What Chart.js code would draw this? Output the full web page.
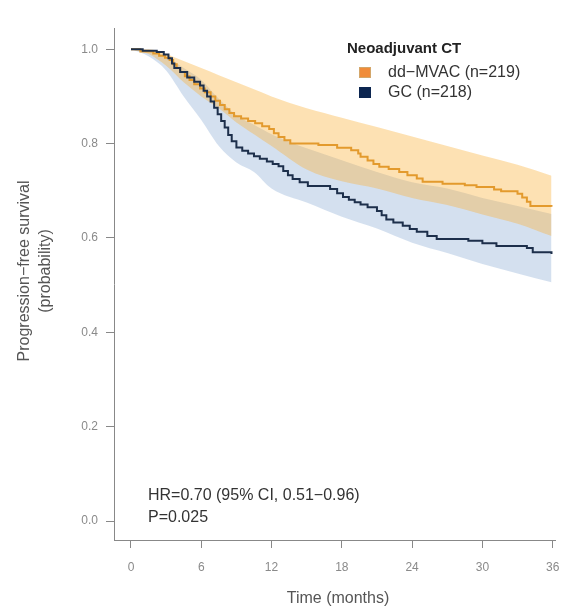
<!DOCTYPE html>
<html>
<head>
<meta charset="utf-8">
<script src="https://cdn.jsdelivr.net/npm/chart.js@4.4.1/dist/chart.umd.min.js"></script>
<style>
  html, body { margin: 0; padding: 0; background: #fff; }
  #wrap { width: 562px; height: 610px; }
</style>
</head>
<body>
<div id="wrap"><canvas id="kmChart" width="562" height="610"></canvas></div>
<script>
// Kaplan-Meier step data (time in months, survival)
const mvacTimes = [0, 0.8, 1.9, 2.4, 2.9, 3.3, 3.6, 3.9, 4.2, 4.6, 5.0, 5.4, 5.9, 6.3, 6.8, 7.2, 7.6, 8.0, 8.4, 8.8, 9.4, 10.0, 10.6, 11.2, 11.8, 12.2, 12.6, 13.1, 13.6, 16.0, 17.6, 18.8, 19.4, 19.6, 20.2, 20.7, 21.2, 22.0, 22.9, 23.6, 24.4, 24.9, 26.6, 28.5, 29.5, 31.0, 31.6, 33.0, 33.4, 33.8, 34.1, 35.9];
const mvacSurv  = [1.0, 0.995, 0.991, 0.986, 0.982, 0.977, 0.968, 0.96, 0.952, 0.943, 0.935, 0.926, 0.917, 0.909, 0.9, 0.891, 0.882, 0.873, 0.865, 0.858, 0.853, 0.848, 0.843, 0.837, 0.831, 0.822, 0.814, 0.807, 0.80, 0.797, 0.791, 0.786, 0.779, 0.772, 0.764, 0.757, 0.751, 0.746, 0.740, 0.733, 0.726, 0.719, 0.715, 0.712, 0.708, 0.703, 0.699, 0.694, 0.686, 0.677, 0.668, 0.666];

const gcTimes = [0, 1.0, 2.2, 2.8, 3.2, 3.5, 3.7, 4.2, 4.8, 5.4, 5.9, 6.2, 6.5, 6.8, 7.1, 7.4, 7.7, 8.0, 8.3, 8.6, 9.0, 9.5, 10.0, 10.5, 11.0, 11.6, 12.1, 12.6, 13.0, 13.4, 13.8, 14.4, 15.1, 17.0, 17.6, 18.1, 18.6, 19.1, 19.6, 20.2, 21.0, 21.4, 21.8, 22.4, 23.2, 23.8, 24.4, 25.3, 26.1, 28.8, 30.0, 31.2, 33.8, 34.3, 35.9];
const gcSurv  = [1.0, 0.997, 0.994, 0.989, 0.981, 0.97, 0.96, 0.952, 0.94, 0.931, 0.923, 0.912, 0.9, 0.889, 0.876, 0.862, 0.848, 0.834, 0.818, 0.805, 0.792, 0.785, 0.779, 0.773, 0.768, 0.762, 0.757, 0.752, 0.742, 0.733, 0.725, 0.718, 0.71, 0.704, 0.695, 0.687, 0.681, 0.676, 0.671, 0.665, 0.657, 0.648, 0.639, 0.633, 0.626, 0.619, 0.613, 0.604, 0.598, 0.594, 0.589, 0.583, 0.579, 0.57, 0.566];

// 95% confidence bands
const ciTimes   = [0, 1.5, 3, 4.5, 6, 7.5, 9, 10.5, 12, 15, 18, 21, 24, 27, 30, 33, 35.9];
const mvacUpper = [1.0, 1.0, 0.99, 0.975, 0.96, 0.945, 0.93, 0.915, 0.9, 0.875, 0.855, 0.835, 0.815, 0.795, 0.775, 0.755, 0.732];
const mvacLower = [1.0, 0.99, 0.965, 0.93, 0.9, 0.875, 0.845, 0.82, 0.795, 0.745, 0.72, 0.705, 0.685, 0.67, 0.65, 0.63, 0.604];
const gcUpper   = [1.0, 0.998, 0.985, 0.96, 0.935, 0.895, 0.86, 0.84, 0.82, 0.79, 0.765, 0.74, 0.718, 0.705, 0.685, 0.668, 0.651];
const gcLower   = [1.0, 0.985, 0.955, 0.9, 0.85, 0.795, 0.76, 0.74, 0.705, 0.675, 0.645, 0.62, 0.59, 0.568, 0.545, 0.525, 0.506];

const xTicks = [0, 6, 12, 18, 24, 30, 36];
const yTicks = [0, 0.2, 0.4, 0.6, 0.8, 1.0];

const seriesLabels = ['dd−MVAC (n=219)', 'GC (n=218)'];
const legendTitle = 'Neoadjuvant CT';
const statLines = ['HR=0.70 (95% CI, 0.51−0.96)', 'P=0.025'];
const yTitle = ['Progression−free survival', '(probability)'];
const xTitle = 'Time (months)';

const ORANGE = '#e39a2d';
const NAVY = '#1d2f4b';
const FONT = '"Liberation Sans", Arial, sans-serif';

const pts = (xs, ys) => xs.map((x, i) => ({ x: x, y: ys[i] }));

// free text: legend, stats, axis titles
const textPlugin = {
  id: 'texts',
  afterDraw(chart) {
    const ctx = chart.ctx;
    ctx.save();
    ctx.textBaseline = 'middle';
    ctx.textAlign = 'left';

    ctx.fillStyle = '#222';
    ctx.font = 'bold 15px ' + FONT;
    ctx.fillText(legendTitle, 347, 49);

    const boxColors = ['#f08c3a', '#0c2650'];
    const rowY = [73, 93];
    ctx.font = '16px ' + FONT;
    seriesLabels.forEach((lab, i) => {
      ctx.fillStyle = boxColors[i];
      ctx.fillRect(359, rowY[i] - 6, 12, 11);
      if (i === 0) {
        ctx.strokeStyle = '#d3a66a';
        ctx.lineWidth = 1;
        ctx.strokeRect(359.5, rowY[i] - 5.5, 11, 10);
      }
      ctx.fillStyle = '#333';
      ctx.fillText(lab, 388, rowY[i]);
    });

    ctx.fillStyle = '#333';
    ctx.font = '16px ' + FONT;
    ctx.fillText(statLines[0], 148, 496);
    ctx.fillText(statLines[1], 148, 518);

    ctx.fillStyle = '#555';
    ctx.textAlign = 'center';
    ctx.fillText(xTitle, 338, 599);

    ctx.translate(0, 271);
    ctx.rotate(-Math.PI / 2);
    ctx.fillText(yTitle[0], 0, 25);
    ctx.fillText(yTitle[1], 0, 46);
    ctx.restore();
  }
};

const ctx = document.getElementById('kmChart').getContext('2d');
const chart = new Chart(ctx, {
  type: 'line',
  data: {
    datasets: [
      { label: 'GC', data: pts(gcTimes, gcSurv), borderColor: NAVY, borderWidth: 2, stepped: 'before', pointRadius: 0, fill: false },
      { label: 'dd-MVAC', data: pts(mvacTimes, mvacSurv), borderColor: ORANGE, borderWidth: 2, stepped: 'before', pointRadius: 0, fill: false },
      { label: 'mvacUpper', data: pts(ciTimes, mvacUpper), borderWidth: 0, borderColor: 'rgba(0,0,0,0)', pointRadius: 0, cubicInterpolationMode: 'monotone', fill: '+1', backgroundColor: 'rgba(250,176,55,0.38)' },
      { label: 'mvacLower', data: pts(ciTimes, mvacLower), borderWidth: 0, borderColor: 'rgba(0,0,0,0)', pointRadius: 0, cubicInterpolationMode: 'monotone', fill: false },
      { label: 'gcUpper', data: pts(ciTimes, gcUpper), borderWidth: 0, borderColor: 'rgba(0,0,0,0)', pointRadius: 0, cubicInterpolationMode: 'monotone', fill: '+1', backgroundColor: 'rgba(120,158,205,0.32)' },
      { label: 'gcLower', data: pts(ciTimes, gcLower), borderWidth: 0, borderColor: 'rgba(0,0,0,0)', pointRadius: 0, cubicInterpolationMode: 'monotone', fill: false }
    ]
  },
  options: {
    responsive: false,
    animation: false,
    layout: { padding: { top: 28, right: 7, left: 0, bottom: 0 } },
    plugins: { legend: { display: false }, tooltip: { enabled: false } },
    scales: {
      x: {
        type: 'linear',
        min: -1.45,
        max: 36.2,
        afterFit: s => { s.height = 70; s.paddingRight = 0; s.paddingLeft = 0; },
        afterBuildTicks: s => { s.ticks = xTicks.map(v => ({ value: v })); },
        grid: { drawOnChartArea: false, drawTicks: true, tickLength: 8, color: '#888' },
        border: { display: true, color: '#888', width: 1 },
        ticks: { color: '#8a8a8a', font: { family: FONT, size: 12 }, padding: 12, maxRotation: 0, callback: v => String(v) }
      },
      y: {
        min: -0.04,
        max: 1.045,
        afterFit: s => { s.width = 114; s.paddingTop = 0; s.paddingBottom = 0; },
        afterBuildTicks: s => { s.ticks = yTicks.map(v => ({ value: v })); },
        grid: { drawOnChartArea: false, drawTicks: true, tickLength: 8, color: '#888' },
        border: { display: true, color: '#888', width: 1 },
        ticks: { color: '#8a8a8a', font: { family: FONT, size: 12 }, padding: 8, callback: v => v.toFixed(1) }
      }
    }
  },
  plugins: [textPlugin]
});
</script>
</body>
</html>
